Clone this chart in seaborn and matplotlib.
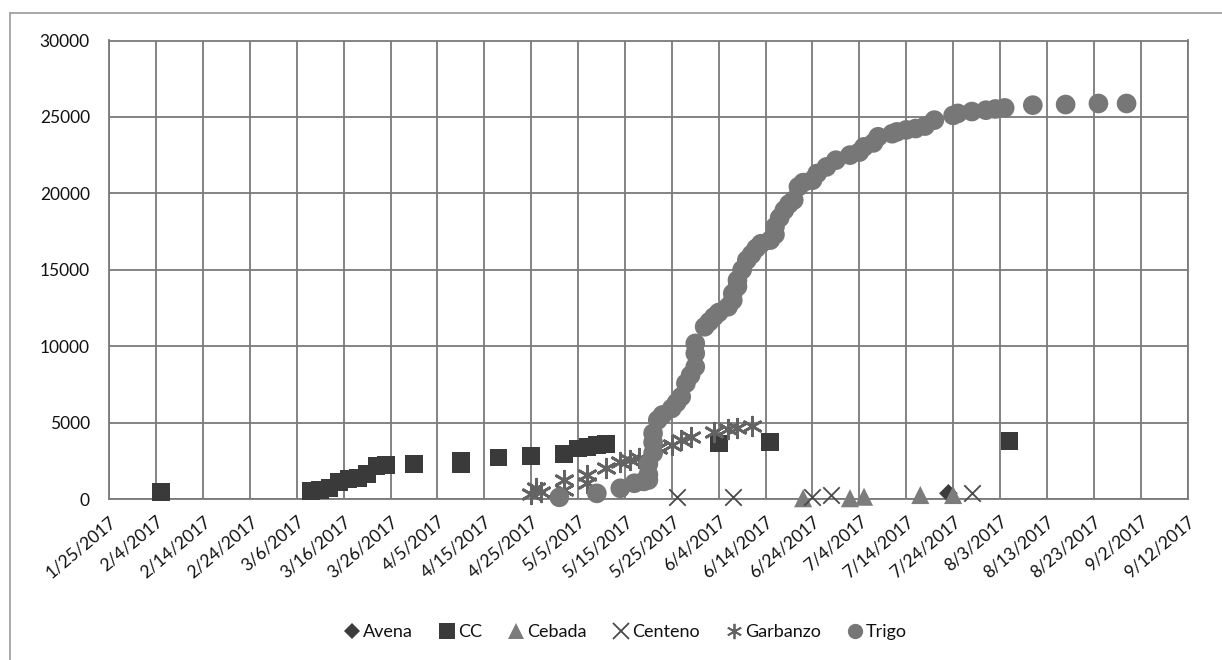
import matplotlib
matplotlib.use("Agg")
import matplotlib.pyplot as plt
from matplotlib.lines import Line2D
import seaborn as sns
import pandas as pd

sns.set_theme(style="white")
plt.rcParams["font.family"] = ["Lato", "DejaVu Sans"]

# ---- data -------------------------------------------------------------
avena_dates = ["2017-07-23"]
avena_vals = [370]

cc_dates = ["2017-02-05", "2017-03-09", "2017-03-11", "2017-03-13", "2017-03-15",
            "2017-03-17", "2017-03-19", "2017-03-21", "2017-03-23", "2017-03-25",
            "2017-03-31", "2017-04-10", "2017-04-10", "2017-04-18", "2017-04-25",
            "2017-05-02", "2017-05-05", "2017-05-07", "2017-05-09", "2017-05-11",
            "2017-06-04", "2017-06-15", "2017-08-05"]
cc_vals = [460, 520, 590, 715, 1130, 1300, 1370, 1630, 2170, 2220,
           2280, 2300, 2500, 2720, 2800, 2930, 3300, 3410, 3520, 3590,
           3630, 3740, 3800]

cebada_dates = ["2017-06-22", "2017-07-02", "2017-07-05", "2017-07-17", "2017-07-24"]
cebada_vals = [50, 50, 150, 260, 260]

centeno_dates = ["2017-05-26", "2017-06-07", "2017-06-24", "2017-06-28", "2017-07-28"]
centeno_vals = [150, 150, 150, 260, 370]

garbanzo_dates = ["2017-04-25", "2017-04-26", "2017-04-27", "2017-05-02", "2017-05-02",
                  "2017-05-07", "2017-05-07", "2017-05-11", "2017-05-14", "2017-05-16",
                  "2017-05-18", "2017-05-22", "2017-05-25", "2017-05-27", "2017-05-29",
                  "2017-06-03", "2017-06-06", "2017-06-08", "2017-06-11"]
garbanzo_vals = [300, 700, 450, 590, 1240, 1030, 1560, 2000, 2430, 2540,
                 2660, 3320, 3530, 3860, 4070, 4400, 4560, 4620, 4770]

trigo_dates = ["2017-05-01", "2017-05-09", "2017-05-14", "2017-05-17", "2017-05-19",
               "2017-05-20", "2017-05-20", "2017-05-20", "2017-05-21", "2017-05-21",
               "2017-05-21", "2017-05-22", "2017-05-23", "2017-05-25", "2017-05-26",
               "2017-05-27", "2017-05-28", "2017-05-29", "2017-05-30", "2017-05-30",
               "2017-05-30", "2017-06-01", "2017-06-02", "2017-06-03", "2017-06-04",
               "2017-06-06", "2017-06-07", "2017-06-07", "2017-06-08", "2017-06-08",
               "2017-06-09", "2017-06-10", "2017-06-11", "2017-06-12", "2017-06-13",
               "2017-06-15", "2017-06-16", "2017-06-16", "2017-06-17", "2017-06-18",
               "2017-06-19", "2017-06-20", "2017-06-21", "2017-06-22", "2017-06-24",
               "2017-06-25", "2017-06-27", "2017-06-29", "2017-07-02", "2017-07-04",
               "2017-07-05", "2017-07-07", "2017-07-08", "2017-07-11", "2017-07-12",
               "2017-07-14", "2017-07-16", "2017-07-18", "2017-07-20", "2017-07-24",
               "2017-07-25", "2017-07-28", "2017-07-31", "2017-08-02", "2017-08-04",
               "2017-08-10", "2017-08-17", "2017-08-24", "2017-08-30"]
trigo_vals = [110, 370, 700, 1030, 1150,
              1240, 1600, 2300, 3000, 3700,
              4300, 5170, 5500, 5930, 6300,
              6690, 7570, 8100, 8650, 9530,
              10180, 11270, 11600, 11920, 12200,
              12580, 13000, 13450, 13900, 14320,
              15000, 15630, 16000, 16400, 16700,
              16940, 17300, 17810, 18400, 18900,
              19300, 19560, 20430, 20700, 20860,
              21300, 21730, 22170, 22500, 22700,
              23040, 23300, 23700, 23900, 24020,
              24150, 24240, 24400, 24790, 25100,
              25230, 25350, 25440, 25520, 25590,
              25770, 25810, 25880, 25880]

tick_labels = ["1/25/2017", "2/4/2017", "2/14/2017", "2/24/2017", "3/6/2017",
               "3/16/2017", "3/26/2017", "4/5/2017", "4/15/2017", "4/25/2017",
               "5/5/2017", "5/15/2017", "5/25/2017", "6/4/2017", "6/14/2017",
               "6/24/2017", "7/4/2017", "7/14/2017", "7/24/2017", "8/3/2017",
               "8/13/2017", "8/23/2017", "9/2/2017", "9/12/2017"]
y_ticks = [0, 5000, 10000, 15000, 20000, 25000, 30000]

# ---- figure -------------------------------------------------------------
W, H = 1222, 660
fig = plt.figure(figsize=(W / 100, H / 100), dpi=100)
fig.patch.set_facecolor("white")

# outer chart-area frame (open at right/bottom)
frame_col = "#9a9a9a"
fig.add_artist(Line2D([10 / W, 10 / W], [0, 1 - 12.5 / H], transform=fig.transFigure,
                      color=frame_col, lw=1.2))
fig.add_artist(Line2D([10 / W, 1], [1 - 12.5 / H, 1 - 12.5 / H], transform=fig.transFigure,
                      color=frame_col, lw=1.2))

left, right, top, bottom = 109.3, 1187.5, 40.5, 499
ax = fig.add_axes([left / W, 1 - bottom / H, (right - left) / W, (bottom - top) / H])
ax.set_facecolor("white")

grid_col = "#7a7a7a"
text_col = "#111111"
series = [
    ("Avena", avena_dates, avena_vals, "D", "#3c3c3c", 90, None),
    ("CC", cc_dates, cc_vals, "s", "#3a3a3a", 160, None),
    ("Cebada", cebada_dates, cebada_vals, "^", "#7c7c7c", 170, None),
    ("Centeno", centeno_dates, centeno_vals, "x", "#4a4a4a", 140, 1.3),
    ("Garbanzo", garbanzo_dates, garbanzo_vals, (6, 2, 0), "#636363", 180, 2.0),
    ("Trigo", trigo_dates, trigo_vals, "o", "#777777", 200, None),
]

for name, dates, vals, mk, col, size, lw in series:
    df = pd.DataFrame({"date": pd.to_datetime(dates), "value": vals})
    kw = dict(linewidth=lw) if lw else dict(linewidth=0)
    sns.scatterplot(data=df, x="date", y="value", ax=ax, marker=mk, color=col,
                    s=size, edgecolor=col if lw else "none", zorder=3, legend=False,
                    clip_on=False, **kw)

x_ticks = pd.to_datetime(tick_labels, format="%m/%d/%Y")
ax.set_xlim(x_ticks[0], x_ticks[-1])
ax.set_ylim(0, 30000)
ax.set_xticks(x_ticks)
ax.set_xticklabels(tick_labels, rotation=40, ha="right", va="top", rotation_mode="anchor",
                   fontsize=12.5, color=text_col)
ax.set_yticks(y_ticks)
ax.set_yticklabels([str(v) for v in y_ticks], fontsize=12.5, color=text_col)
ax.set_xlabel("")
ax.set_ylabel("")

ax.grid(True, color=grid_col, linewidth=1.3, zorder=0)
ax.set_axisbelow(True)
for sp in ax.spines.values():
    sp.set_color(grid_col)
    sp.set_linewidth(1.3)
ax.tick_params(axis="both", which="both", direction="out", length=6, width=1.3,
               color=grid_col, pad=4)
ax.tick_params(axis="y", pad=8)

# legend
handles = []
for name, dates, vals, mk, col, size, lw in series:
    if lw:
        h = Line2D([], [], linestyle="none", marker=mk, color=col, markersize=11,
                   markeredgewidth=1.3)
    else:
        h = Line2D([], [], linestyle="none", marker=mk, color=col,
                   markersize=8 if mk == "D" else 11, markeredgewidth=0)
    handles.append(h)
fig.legend(handles, [s[0] for s in series], loc="center", ncol=6,
           bbox_to_anchor=(625 / W, 1 - 632 / H), frameon=False, fontsize=13,
           handletextpad=0.1, columnspacing=1.4, handlelength=1.0,
           labelcolor=text_col)

fig.savefig("out.png", dpi=100, facecolor="white")
